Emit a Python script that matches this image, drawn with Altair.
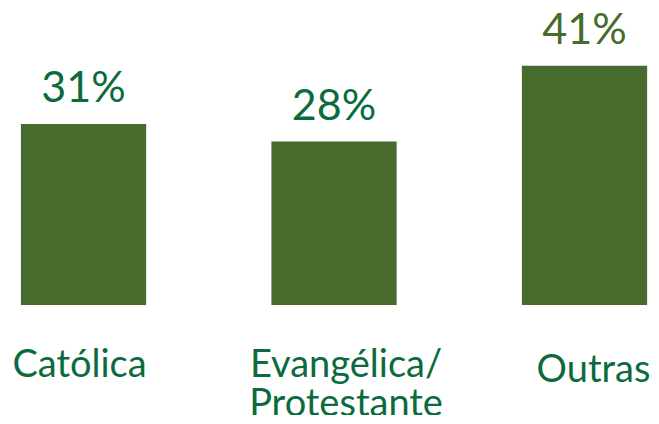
import altair as alt
import pandas as pd

categories = ["Católica", "Evangélica/Protestante", "Outras"]
values = [31, 28, 41]
labels = ["31%", "28%", "41%"]
label_colors = ["#0B6B3E", "#0B6B3E", "#476B2D"]

df = pd.DataFrame({"cat": categories, "val": values, "lab": labels, "lc": label_colors})

FONT = "Lato"
BAR = "#476B2D"
TEAL = "#0B6B3E"

x = alt.X(
    "cat:N",
    sort=categories,
    scale=alt.Scale(paddingInner=0.5, paddingOuter=0.0335, align=0.77),
    axis=alt.Axis(
        title=None,
        domain=False,
        ticks=False,
        grid=False,
        labelAngle=0,
        labelFont=FONT,
        labelFontSize=38,
        labelColor=TEAL,
        labelPadding=alt.ExprRef(expr="datum.value == 'Outras' ? 46 : 41"),
        labelOffset=alt.ExprRef(expr="datum.value == 'Outras' ? 9 : (datum.value == 'Católica' ? -4 : 12)"),
        labelLineHeight=39,
        labelExpr="datum.value == 'Evangélica/Protestante' ? ['Evangélica/', 'Protestante'] : datum.value",
        labelBaseline="top",
        labelLimit=400,
        labelOverlap=False,
    ),
)
y = alt.Y("val:Q", scale=alt.Scale(domain=[0, 50.9]), axis=None)

bars = alt.Chart(df).mark_bar(color=BAR).encode(x=x, y=y)
text = alt.Chart(df).mark_text(
    font=FONT, fontSize=43, baseline="alphabetic", dy=-22
).encode(x=x, y=y, text="lab:N", color=alt.Color("lc:N", scale=None))

chart = (
    (bars + text)
    .properties(
        width=643,
        height=297,
        background="white",
        autosize=alt.AutoSizeParams(type="none"),
        padding={"left": 0, "top": 0, "right": 0, "bottom": 110},
    )
    .configure_view(stroke=None, strokeWidth=0)
)

chart.save("out.html", embed_options={"renderer": "svg", "actions": False})
